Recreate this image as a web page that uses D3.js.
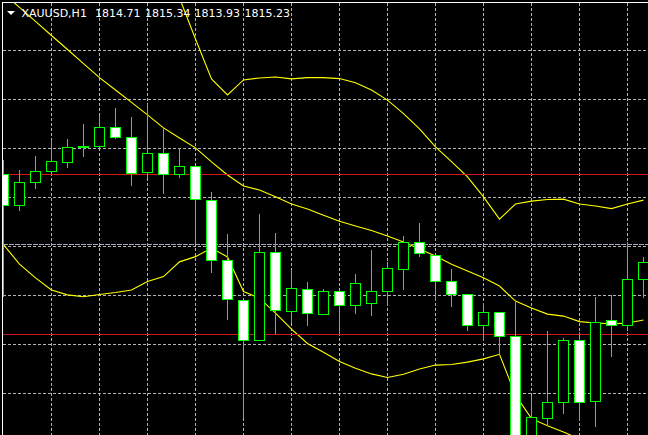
<!DOCTYPE html>
<html>
<head>
<meta charset="utf-8">
<script src="https://cdn.jsdelivr.net/npm/d3@7/dist/d3.min.js"></script>
<style>
    body { margin: 0; background: #000; overflow: hidden; }
    svg { display: block; }
</style>
</head>
<body>
<svg id="svg1" width="648" height="435"></svg>
<script>
// XAUUSD H1 bars, oldest first (the first one is cut by the left edge)
var barOpen = [1817.71, 1816.74, 1817.45, 1817.79, 1818.08, 1818.55, 1818.56, 1819.15, 1818.84, 1817.77,
    1818.35, 1817.71, 1817.96, 1816.90, 1815.08, 1813.84, 1812.62, 1815.32, 1813.50, 1814.19,
    1813.43, 1814.13, 1813.68, 1813.76, 1814.13, 1814.80, 1815.62, 1815.23, 1814.43, 1814.04,
    1813.07, 1813.48, 1812.76, 1809.45, 1810.24, 1810.73, 1812.62, 1810.77, 1813.23, 1813.07,
    1814.50];
var barHigh = [1818.15, 1817.84, 1818.27, 1818.76, 1818.80, 1819.25, 1819.49, 1819.74, 1819.46, 1819.85,
    1819.14, 1818.51, 1817.97, 1817.16, 1815.88, 1813.86, 1816.50, 1815.91, 1814.78, 1814.41,
    1814.20, 1814.15, 1814.65, 1815.39, 1815.03, 1815.82, 1816.21, 1815.25, 1814.80, 1814.05,
    1813.78, 1813.50, 1813.80, 1810.92, 1812.91, 1812.70, 1812.87, 1813.95, 1814.02, 1815.63,
    1815.18];
var barLow = [1813.94, 1816.60, 1817.26, 1817.76, 1817.91, 1818.25, 1818.53, 1818.78, 1817.36, 1817.60,
    1817.10, 1817.59, 1815.58, 1814.70, 1813.26, 1810.24, 1812.60, 1812.83, 1813.17, 1813.08,
    1813.40, 1812.81, 1813.43, 1813.38, 1813.69, 1814.17, 1815.17, 1813.84, 1813.66, 1812.92,
    1812.62, 1812.18, 1808.60, 1809.10, 1810.01, 1810.37, 1810.16, 1809.97, 1812.13, 1812.94,
    1813.93];
var barClose = [1816.74, 1817.47, 1817.80, 1818.11, 1818.54, 1818.55, 1819.15, 1818.84, 1817.73, 1818.35,
    1817.71, 1817.96, 1816.95, 1815.06, 1813.88, 1812.62, 1815.32, 1813.53, 1814.20, 1813.46,
    1814.13, 1813.68, 1814.37, 1814.13, 1814.83, 1815.62, 1815.29, 1814.43, 1814.02, 1813.07,
    1813.48, 1812.76, 1809.30, 1810.26, 1810.73, 1812.62, 1810.73, 1813.17, 1813.07, 1814.50,
    1815.01];

// Bollinger bands, one value per bar
var bandUpper = [1830.93, 1830.67, 1830.24, 1829.75, 1829.05, 1828.24, 1827.32, 1826.49, 1825.65, 1824.62,
    1823.68, 1823.11, 1821.85, 1820.63, 1820.14, 1820.60, 1820.66, 1820.69, 1820.63, 1820.67,
    1820.67, 1820.64, 1820.51, 1820.29, 1819.98, 1819.57, 1819.10, 1818.55, 1818.10, 1817.63,
    1817.02, 1816.34, 1816.80, 1816.89, 1816.94, 1816.95, 1816.80, 1816.74, 1816.66, 1816.80,
    1816.92];
var bandMiddle = [1823.24, 1822.82, 1822.39, 1821.96, 1821.53, 1821.10, 1820.67, 1820.29, 1819.91, 1819.53,
    1819.13, 1818.82, 1818.52, 1818.09, 1817.69, 1817.35, 1817.23, 1817.02, 1816.80, 1816.65,
    1816.46, 1816.27, 1816.13, 1815.99, 1815.82, 1815.64, 1815.42, 1815.21, 1814.96, 1814.75,
    1814.54, 1814.29, 1813.83, 1813.62, 1813.43, 1813.37, 1813.20, 1813.16, 1813.13, 1813.16,
    1813.25];
var bandLower = [1815.56, 1814.96, 1814.54, 1814.17, 1814.02, 1813.96, 1814.03, 1814.09, 1814.17, 1814.43,
    1814.58, 1815.03, 1815.19, 1815.45, 1815.18, 1814.12, 1813.92, 1813.46, 1812.97, 1812.53,
    1812.26, 1811.98, 1811.77, 1811.60, 1811.49, 1811.59, 1811.75, 1811.87, 1811.89, 1811.96,
    1812.06, 1812.20, 1810.95, 1810.23, 1810.01, 1809.82, 1809.61, 1809.57, 1809.59, 1809.52,
    1809.57];

// horizontal lines drawn by hand, grid prices, bid
var levelPrices = [1817.69, 1812.79];
var gridPrices = [1811.0, 1812.5, 1814.0, 1815.5, 1817.0, 1818.5, 1820.0, 1821.5];
var bidPrice = 1815.55;

var headerSymbol = 'XAUUSD,H1';
var headerOHLC = ['1814.71', '1815.34', '1813.93', '1815.23'];

var divWidth = 648;
var divHeight = 435;
var svg = d3.select('#svg1');

var xScale = d3.scaleBand()
    .domain(d3.range(barOpen.length))
    .range([-4.5, -4.5 + 16 * barOpen.length]);
var yScale = d3.scaleLinear()
    .domain([gridPrices[0], gridPrices[gridPrices.length - 1]])
    .range([393.5, 50.5]);

function centerX(i) {
    return xScale(i) + xScale.bandwidth() / 2;
}
function snapY(v) {
    return Math.round(yScale(v) - 0.5) + 0.5;
}

svg.append('rect').attr('x', 0).attr('y', 0)
    .attr('width', divWidth).attr('height', divHeight)
    .attr('fill', '#000');

svg.append('clipPath').attr('id', 'plotClip')
    .append('rect').attr('x', 3).attr('y', 3)
    .attr('width', divWidth - 3).attr('height', divHeight - 3);

var plot = svg.append('g').attr('clip-path', 'url(#plotClip)');

drawGrid();
drawBands();
drawLevels();
drawCandles();
drawFrame();
drawHeader();

function drawGrid() {
    plot.selectAll('.hgrid').data(gridPrices).enter()
        .append('line').attr('class', 'hgrid')
        .attr('x1', 3).attr('x2', divWidth)
        .attr('y1', function (d) { return snapY(d); })
        .attr('y2', function (d) { return snapY(d); })
        .attr('stroke', '#b4b4b4')
        .attr('stroke-width', 1)
        .attr('stroke-dasharray', '3,2')
        .attr('shape-rendering', 'crispEdges');

    var cols = d3.range(barOpen.length).filter(function (i) {
        return i > 0 && i % 3 == 0;
    });
    plot.selectAll('.vgrid').data(cols).enter()
        .append('line').attr('class', 'vgrid')
        .attr('x1', function (d) { return centerX(d); })
        .attr('x2', function (d) { return centerX(d); })
        .attr('y1', 3).attr('y2', divHeight)
        .attr('stroke', '#b4b4b4')
        .attr('stroke-width', 1)
        .attr('stroke-dasharray', '3,2')
        .attr('shape-rendering', 'crispEdges');

    // bid line
    plot.append('line')
        .attr('x1', 3).attr('x2', divWidth)
        .attr('y1', snapY(bidPrice)).attr('y2', snapY(bidPrice))
        .attr('stroke', '#a4a6c0')
        .attr('stroke-width', 1)
        .attr('stroke-dasharray', '5,1')
        .attr('shape-rendering', 'crispEdges');
}

function drawLevels() {
    for (var i = 0; i < levelPrices.length; i++) {
        plot.append('rect')
            .attr('class', 'level')
            .attr('x', 3)
            .attr('y', Math.round(yScale(levelPrices[i])) - 1)
            .attr('width', divWidth - 3)
            .attr('height', 1)
            .attr('fill', '#d81818');
    }
}

function drawBands() {
    var line = d3.line()
        .x(function (d, i) { return centerX(i); })
        .y(function (d) { return yScale(d); });
    var bands = [bandUpper, bandMiddle, bandLower];
    for (var b = 0; b < bands.length; b++) {
        plot.append('path')
            .attr('d', line(bands[b]))
            .attr('fill', 'none')
            .attr('stroke', '#ffff00')
            .attr('stroke-width', 1.1);
    }
}

function drawCandles() {
    var idx = d3.range(barOpen.length);

    plot.selectAll('.wick').data(idx).enter()
        .append('line').attr('class', 'wick')
        .attr('x1', function (i) { return centerX(i); })
        .attr('x2', function (i) { return centerX(i); })
        .attr('y1', function (i) { return Math.round(yScale(barHigh[i])); })
        .attr('y2', function (i) { return Math.round(yScale(barLow[i])); })
        .attr('stroke', '#00ff00')
        .attr('stroke-width', 1)
        .attr('shape-rendering', 'crispEdges');

    plot.selectAll('.body').data(idx).enter()
        .append('rect').attr('class', 'body')
        .attr('x', function (i) {
            return centerX(i) - 5;
        })
        .attr('y', function (i) {
            return snapY(Math.max(barOpen[i], barClose[i]));
        })
        .attr('width', 10)
        .attr('height', function (i) {
            var h = snapY(Math.min(barOpen[i], barClose[i])) - snapY(Math.max(barOpen[i], barClose[i]));
            return Math.max(h, 1);
        })
        .attr('fill', function (i) {
            return barClose[i] < barOpen[i] ? '#ffffff' : '#000000';
        })
        .attr('stroke', '#00ff00')
        .attr('stroke-width', 1)
        .attr('shape-rendering', 'crispEdges');
}

function drawFrame() {
    svg.append('line')
        .attr('x1', 2).attr('x2', divWidth)
        .attr('y1', 2.5).attr('y2', 2.5)
        .attr('stroke', '#ffffff').attr('stroke-width', 1);
    svg.append('line')
        .attr('x1', 2.5).attr('x2', 2.5)
        .attr('y1', 2).attr('y2', divHeight)
        .attr('stroke', '#ffffff').attr('stroke-width', 1);
}

function drawHeader() {
    svg.append('path')
        .attr('d', 'M7,11 L15,11 L11,15 Z')
        .attr('fill', '#ffffff');

    var labels = [headerSymbol].concat(headerOHLC);
    var xs = [21.5, 95, 145, 194.5, 244.5];
    svg.selectAll('.hdr').data(labels).enter()
        .append('text').attr('class', 'hdr')
        .attr('x', function (d, i) { return xs[i]; })
        .attr('y', 17)
        .attr('fill', '#ffffff')
        .attr('font-family', 'DejaVu Sans, sans-serif')
        .attr('font-size', '11px')
        .text(function (d) { return d; });
}
</script>
</body>
</html>
